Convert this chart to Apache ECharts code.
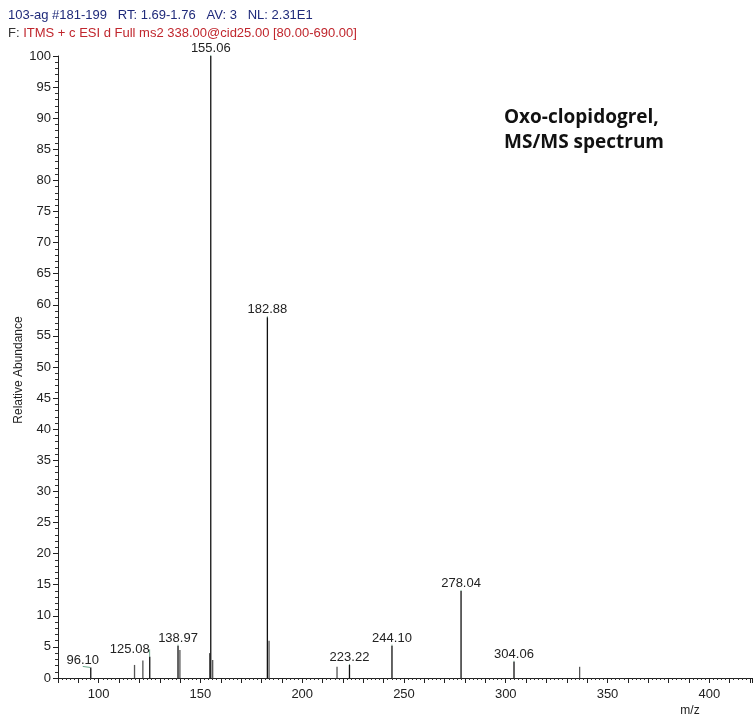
<!DOCTYPE html>
<html>
<head>
<meta charset="utf-8">
<script src="https://cdn.jsdelivr.net/npm/echarts@6/dist/echarts.min.js"></script>
<style>html,body{margin:0;padding:0;background:#fff}#c{width:755px;height:718px}</style>
</head>
<body>
<div id="c"></div>
<script>
// ---- data ----
const labeledMz = [96.10, 125.08, 138.97, 155.06, 182.88, 223.22, 244.10, 278.04, 304.06];
const labeledAbund = [1.7, 3.4, 5.2, 100, 58, 2.1, 5.2, 14.0, 2.6];
const otherMz = [117.6, 121.7, 139.9, 154.5, 156.0, 183.7, 217.1, 336.3];
const otherAbund = [2.1, 2.8, 4.5, 4.0, 2.9, 6.0, 1.8, 1.8];
const xTickLabels = [100, 150, 200, 250, 300, 350, 400];
const yTickLabels = [0,5,10,15,20,25,30,35,40,45,50,55,60,65,70,75,80,85,90,95,100];
const headerLine1 = '103-ag #181-199   RT: 1.69-1.76   AV: 3   NL: 2.31E1';
const headerPrefix = 'F:';
const headerLine2 = 'ITMS + c ESI d Full ms2 338.00@cid25.00 [80.00-690.00]';
const annotation = 'Oxo-clopidogrel,\nMS/MS spectrum';
const yAxisTitle = 'Relative Abundance';

const labelShift = {0: [-8, 0], 1: [-20, 0]};
const FONT = 'Liberation Sans, Arial, sans-serif';

const chart = echarts.init(document.getElementById('c'));
chart.setOption({
  backgroundColor: '#fff',
  animation: false,
  grid: {left: 58, right: 0, top: 56, bottom: 40},
  xAxis: {
    type: 'value', min: 80, max: 421, interval: 10,
    axisLine: {show: true, lineStyle: {color: '#222', width: 1}},
    axisTick: {show: true, length: 5, lineStyle: {color: '#222'}},
    minorTick: {show: true, splitNumber: 5, length: 2, lineStyle: {color: '#333'}},
    axisLabel: {
      margin: 10, color: '#222', fontFamily: FONT, fontSize: 13,
      formatter: v => xTickLabels.includes(v) ? String(v) : ''
    },
    splitLine: {show: false},
    name: 'm/z', nameLocation: 'end', nameGap: 0,
    nameTextStyle: {color: '#222', fontFamily: FONT, fontSize: 12, align: 'center', verticalAlign: 'top', padding: [27, 0, 0, -124]}
  },
  yAxis: {
    type: 'value', min: 0, max: 100, interval: 5,
    axisLine: {show: true, lineStyle: {color: '#222', width: 1}},
    axisTick: {show: true, length: 5, lineStyle: {color: '#222'}},
    minorTick: {show: true, splitNumber: 5, length: 3, lineStyle: {color: '#333'}},
    axisLabel: {
      margin: 7, color: '#222', fontFamily: FONT, fontSize: 13,
      formatter: v => yTickLabels.includes(v) ? String(v) : ''
    },
    splitLine: {show: false}
  },
  graphic: [
    {type: 'text', left: 8, top: 9, style: {text: headerLine1, fill: '#1f2a7a', font: '13px ' + FONT}},
    {type: 'text', left: 8, top: 27, style: {
      text: '{a|' + headerPrefix + '} {b|' + headerLine2 + '}',
      rich: {a: {fill: '#333', font: '13px ' + FONT}, b: {fill: '#c0262d', font: '13px ' + FONT}},
      font: '13px ' + FONT
    }},
    {type: 'text', x: 19, y: 370, rotation: Math.PI / 2, style: {text: yAxisTitle, fill: '#222', font: '12px ' + FONT, align: 'center', verticalAlign: 'middle'}},
    {type: 'text', left: 504, top: 105, style: {text: annotation, fill: '#111', font: 'bold 19px "Open Sans", Lato, sans-serif', lineHeight: 25}}
  ],
  series: [
    {
      type: 'bar', barWidth: 1.3, barGap: '-100%',
      data: otherMz.map((m, i) => [m, otherAbund[i]]),
      itemStyle: {color: '#555'},
      silent: true
    },
    {
      type: 'bar', barWidth: 1.3, barGap: '-100%',
      data: labeledMz.map((m, i) => [m, labeledAbund[i]]),
      itemStyle: {color: '#111'},
      label: {
        show: true, position: 'top', distance: 1, color: '#222', fontFamily: FONT, fontSize: 13,
        formatter: p => p.value[0].toFixed(2)
      },
      labelLayout: p => {
        const s = labelShift[p.dataIndex];
        return s ? {dx: s[0], dy: s[1]} : {};
      },
      labelLine: {show: true, lineStyle: {color: '#6aa88a', width: 1}},
      silent: true
    }
  ]
});
</script>
</body>
</html>
